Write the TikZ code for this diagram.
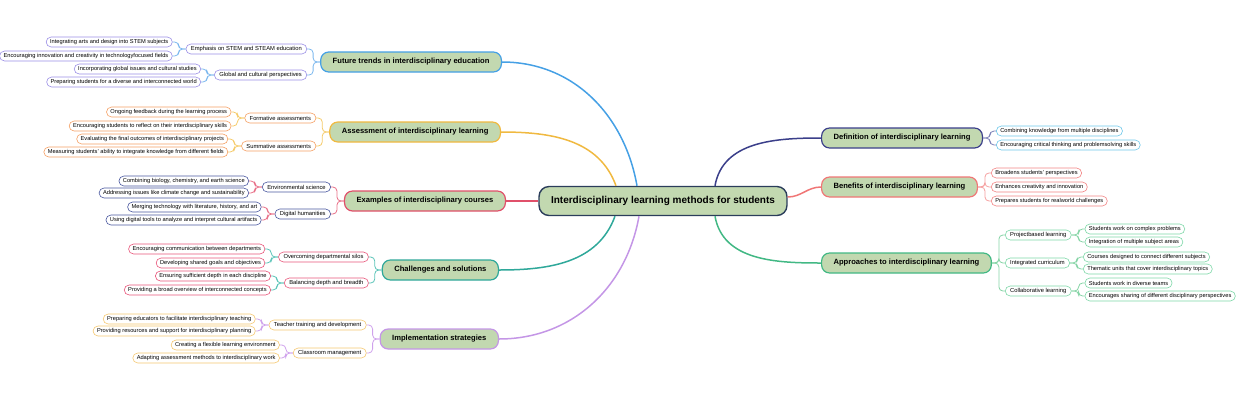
\documentclass[tikz,border=0pt]{standalone}
\usepackage{fontspec}
\setmainfont{Liberation Sans}
\usetikzlibrary{positioning}

\definecolor{sage}{HTML}{C2D8B0}
\definecolor{rootline}{HTML}{2B3D5B}
\definecolor{futline}{HTML}{45A0E5}
\definecolor{futbox}{HTML}{9B8FE6}
\definecolor{futtwig}{HTML}{7DB8EE}
\definecolor{assline}{HTML}{F0B940}
\definecolor{assbox}{HTML}{F5A064}
\definecolor{asstwig}{HTML}{F5CB6A}
\definecolor{exaline}{HTML}{E0506A}
\definecolor{exabox}{HTML}{4A58A0}
\definecolor{exatwig}{HTML}{E87088}
\definecolor{chaline}{HTML}{2FA89A}
\definecolor{chabox}{HTML}{E8557A}
\definecolor{chatwig}{HTML}{5CC4B8}
\definecolor{impline}{HTML}{C496E6}
\definecolor{impbox}{HTML}{F5C870}
\definecolor{imptwig}{HTML}{CFA2EC}
\definecolor{defline}{HTML}{3B3F8A}
\definecolor{defbox}{HTML}{6EC8EA}
\definecolor{deftwig}{HTML}{7C82B8}
\definecolor{benline}{HTML}{F07676}
\definecolor{benbox}{HTML}{F28484}
\definecolor{bentwig}{HTML}{F5A0A0}
\definecolor{appline}{HTML}{42B884}
\definecolor{appbox}{HTML}{7ED8A8}
\definecolor{apptwig}{HTML}{86D4A6}

\begin{document}
\begin{tikzpicture}[x=1pt, y=-1pt, node distance=13pt,
  rootbox/.style={draw=rootline, fill=sage, line width=1.4pt, rounded corners=10pt, minimum height=29pt, inner xsep=12pt, font=\fontsize{10}{12}\selectfont\bfseries},
  topicbox/.style={draw, fill=sage, line width=1.2pt, rounded corners=8pt, minimum height=20pt, inner xsep=12pt, inner ysep=0pt, font=\fontsize{7.6}{9}\selectfont\bfseries},
  subbox/.style={draw, fill=white, line width=0.6pt, rounded corners=5pt, minimum height=10pt, inner xsep=5pt, inner ysep=0pt, font=\fontsize{5.8}{7}\selectfont},
  leafbox/.style={subbox, inner xsep=4pt, font=\fontsize{5.7}{7}\selectfont},
  link/.style={line width=1.5pt},
  twig/.style={line width=0.8pt, rounded corners=4pt}]

  \useasboundingbox (0,0) rectangle (1240,400);

  % Central topic
  \coordinate (hub) at (663,201);
  \node[rootbox] (root) at (hub) {Interdisciplinary learning methods for students};

  % Left topics
  \node[topicbox, draw=futline, anchor=east] (fut) at (502,62) {Future trends in interdisciplinary education};
  \node[topicbox, draw=assline, anchor=east] (ass) at (501,132) {Assessment of interdisciplinary learning};
  \node[topicbox, draw=exaline, anchor=east] (exa) at (506,201) {Examples of interdisciplinary courses};
  \node[topicbox, draw=chaline, anchor=east] (cha) at (499,270) {Challenges and solutions};
  \node[topicbox, draw=impline, anchor=east] (imp) at (499,339) {Implementation strategies};

  % Right topics
  \node[topicbox, draw=defline, anchor=west] (def) at (821,138) {Definition of interdisciplinary learning};
  \node[topicbox, draw=benline, anchor=west] (ben) at (821,187) {Benefits of interdisciplinary learning};
  \node[topicbox, draw=appline, anchor=west] (app) at (821,263) {Approaches to interdisciplinary learning};

  % Future trends
  \node[subbox, draw=futbox, left=of fut, yshift=13pt] (fut1) {Emphasis on STEM and STEAM education};
  \node[subbox, draw=futbox, left=of fut, yshift=-13pt] (fut2) {Global and cultural perspectives};
  \node[leafbox, draw=futbox, left=of fut1, yshift=7pt] (fut11) {Integrating arts and design into STEM subjects};
  \node[leafbox, draw=futbox, left=of fut1, yshift=-7pt] (fut12) {Encouraging innovation and creativity in technologyfocused fields};
  \node[leafbox, draw=futbox, left=of fut2, yshift=6pt] (fut21) {Incorporating global issues and cultural studies};
  \node[leafbox, draw=futbox, left=of fut2, yshift=-7pt] (fut22) {Preparing students for a diverse and interconnected world};

  % Assessment
  \node[subbox, draw=assbox, left=of ass, yshift=14pt] (ass1) {Formative assessments};
  \node[subbox, draw=assbox, left=of ass, yshift=-14pt] (ass2) {Summative assessments};
  \node[leafbox, draw=assbox, left=of ass1, yshift=6pt] (ass11) {Ongoing feedback during the learning process};
  \node[leafbox, draw=assbox, left=of ass1, yshift=-8pt] (ass12) {Encouraging students to reflect on their interdisciplinary skills};
  \node[leafbox, draw=assbox, left=of ass2, yshift=7pt] (ass21) {Evaluating the final outcomes of interdisciplinary projects};
  \node[leafbox, draw=assbox, left=of ass2, yshift=-6pt] (ass22) {Measuring students' ability to integrate knowledge from different fields};

  % Examples
  \node[subbox, draw=exabox, left=of exa, yshift=14pt] (exa1) {Environmental science};
  \node[subbox, draw=exabox, left=of exa, yshift=-13pt] (exa2) {Digital humanities};
  \node[leafbox, draw=exabox, left=of exa1, yshift=6pt] (exa11) {Combining biology, chemistry, and earth science};
  \node[leafbox, draw=exabox, left=of exa1, yshift=-6pt] (exa12) {Addressing issues like climate change and sustainability};
  \node[leafbox, draw=exabox, left=of exa2, yshift=7pt] (exa21) {Merging technology with literature, history, and art};
  \node[leafbox, draw=exabox, left=of exa2, yshift=-6pt] (exa22) {Using digital tools to analyze and interpret cultural artifacts};

  % Challenges
  \node[subbox, draw=chabox, left=of cha, yshift=13pt] (cha1) {Overcoming departmental silos};
  \node[subbox, draw=chabox, left=of cha, yshift=-13pt] (cha2) {Balancing depth and breadth};
  \node[leafbox, draw=chabox, left=of cha1, yshift=8pt] (cha11) {Encouraging communication between departments};
  \node[leafbox, draw=chabox, left=of cha1, yshift=-6pt] (cha12) {Developing shared goals and objectives};
  \node[leafbox, draw=chabox, left=of cha2, yshift=7pt] (cha21) {Ensuring sufficient depth in each discipline};
  \node[leafbox, draw=chabox, left=of cha2, yshift=-7pt] (cha22) {Providing a broad overview of interconnected concepts};

  % Implementation
  \node[subbox, draw=impbox, left=of imp, yshift=14pt] (imp1) {Teacher training and development};
  \node[subbox, draw=impbox, left=of imp, yshift=-14pt] (imp2) {Classroom management};
  \node[leafbox, draw=impbox, left=of imp1, yshift=6pt] (imp11) {Preparing educators to facilitate interdisciplinary teaching};
  \node[leafbox, draw=impbox, left=of imp1, yshift=-6pt] (imp12) {Providing resources and support for interdisciplinary planning};
  \node[leafbox, draw=impbox, left=of imp2, yshift=8pt] (imp21) {Creating a flexible learning environment};
  \node[leafbox, draw=impbox, left=of imp2, yshift=-5pt] (imp22) {Adapting assessment methods to interdisciplinary work};

  % Definition
  \node[leafbox, draw=defbox, right=of def, yshift=7pt] (def1) {Combining knowledge from multiple disciplines};
  \node[leafbox, draw=defbox, right=of def, yshift=-7pt] (def2) {Encouraging critical thinking and problemsolving skills};

  % Benefits
  \node[leafbox, draw=benbox, right=of ben, yshift=14pt] (ben1) {Broadens students' perspectives};
  \node[leafbox, draw=benbox, right=of ben] (ben2) {Enhances creativity and innovation};
  \node[leafbox, draw=benbox, right=of ben, yshift=-14pt] (ben3) {Prepares students for realworld challenges};

  % Approaches
  \node[subbox, draw=appbox, right=of app, yshift=28pt] (app1) {Projectbased learning};
  \node[subbox, draw=appbox, right=of app] (app2) {Integrated curriculum};
  \node[subbox, draw=appbox, right=of app, yshift=-28pt] (app3) {Collaborative learning};
  \node[leafbox, draw=appbox, right=of app1, yshift=6pt] (app11) {Students work on complex problems};
  \node[leafbox, draw=appbox, right=of app1, yshift=-7pt] (app12) {Integration of multiple subject areas};
  \node[leafbox, draw=appbox, right=of app2, yshift=6pt] (app21) {Courses designed to connect different subjects};
  \node[leafbox, draw=appbox, right=of app2, yshift=-6pt] (app22) {Thematic units that cover interdisciplinary topics};
  \node[leafbox, draw=appbox, right=of app3, yshift=8pt] (app31) {Students work in diverse teams};
  \node[leafbox, draw=appbox, right=of app3, yshift=-5pt] (app32) {Encourages sharing of different disciplinary perspectives};

  % Main links
  \draw[link, futline] ([xshift=-26pt]root.north) to[out=100, in=0] (fut.east);
  \draw[link, assline] ([xshift=-47pt]root.north) to[out=110, in=0] (ass.east);
  \draw[link, exaline] (root.west) -- (exa.east);
  \draw[link, chaline] ([xshift=-48pt]root.south) to[out=-110, in=0] (cha.east);
  \draw[link, impline] ([xshift=-24pt]root.south) to[out=-100, in=0] (imp.east);
  \draw[link, defline] ([xshift=52pt]root.north) to[out=80, in=180] (def.west);
  \draw[link, benline] ([yshift=4pt]root.east) to[out=0, in=180] (ben.west);
  \draw[link, appline] ([xshift=52pt]root.south) to[out=-80, in=180] (app.west);

  % Left twigs
  \foreach \t in {fut, ass, exa, cha, imp} {
    \draw[twig, \t twig] (\t.west) -- ++(-7,0) |- (\t1.east);
    \draw[twig, \t twig] (\t.west) -- ++(-7,0) |- (\t2.east);
    \draw[twig, \t twig] (\t1.west) -- ++(-7,0) |- (\t11.east);
    \draw[twig, \t twig] (\t1.west) -- ++(-7,0) |- (\t12.east);
    \draw[twig, \t twig] (\t2.west) -- ++(-7,0) |- (\t21.east);
    \draw[twig, \t twig] (\t2.west) -- ++(-7,0) |- (\t22.east);
  }

  % Right twigs
  \draw[twig, deftwig] (def.east) -- ++(7,0) |- (def1.west);
  \draw[twig, deftwig] (def.east) -- ++(7,0) |- (def2.west);
  \foreach \n in {1,2,3} {
    \draw[twig, bentwig] (ben.east) -- ++(7,0) |- (ben\n.west);
    \draw[twig, apptwig] (app.east) -- ++(7,0) |- (app\n.west);
    \draw[twig, apptwig] (app\n.east) -- ++(7,0) |- (app\n1.west);
    \draw[twig, apptwig] (app\n.east) -- ++(7,0) |- (app\n2.west);
  }

\end{tikzpicture}
\end{document}
